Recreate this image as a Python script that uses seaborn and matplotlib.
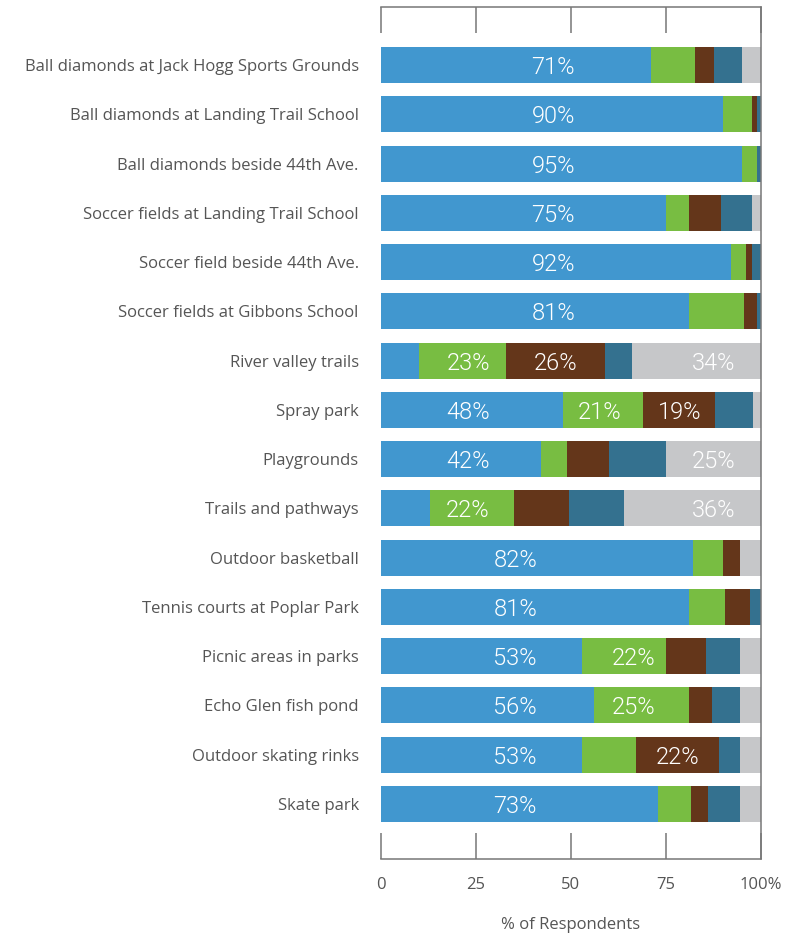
import matplotlib
matplotlib.use("Agg")
import matplotlib.pyplot as plt
import seaborn as sns
import numpy as np
import pandas as pd

# Facilities rated, top to bottom
categories = [
    "Ball diamonds at Jack Hogg Sports Grounds",
    "Ball diamonds at Landing Trail School",
    "Ball diamonds beside 44th Ave.",
    "Soccer fields at Landing Trail School",
    "Soccer field beside 44th Ave.",
    "Soccer fields at Gibbons School",
    "River valley trails",
    "Spray park",
    "Playgrounds",
    "Trails and pathways",
    "Outdoor basketball",
    "Tennis courts at Poplar Park",
    "Picnic areas in parks",
    "Echo Glen fish pond",
    "Outdoor skating rinks",
    "Skate park",
]

# Response shares (% of respondents), one list per stacked segment
seg_blue = [71, 90, 95, 75, 92, 81, 10, 48, 42, 13, 82, 81, 53, 56, 53, 73]
seg_green = [11.5, 7.5, 4, 6, 4, 14.5, 23, 21, 7, 22, 8, 9.5, 22, 25, 14, 8.5]
seg_brown = [5, 1.5, 0, 8.5, 1.5, 3.5, 26, 19, 11, 14.5, 4.5, 6.5, 10.5, 6, 22, 4.5]
seg_teal = [7.5, 1, 1, 8, 2.5, 1, 7, 10, 15, 14.5, 0, 3, 9, 7.5, 5.5, 8.5]
seg_grey = [5, 0, 0, 2.5, 0, 0, 34, 2, 25, 36, 5.5, 0, 5.5, 5.5, 5.5, 5.5]

tick_values = [0, 25, 50, 75, 100]
tick_labels = ["0", "25", "50", "75", "100%"]

series = [
    ("blue", seg_blue, "#4197cf"),
    ("green", seg_green, "#78bd42"),
    ("brown", seg_brown, "#64361a"),
    ("teal", seg_teal, "#34718f"),
    ("grey", seg_grey, "#c6c7c9"),
]

# Where a segment label sits (in axis %), when not simply centred
label_anchor = {}
for r in range(0, 6):
    label_anchor[(r, "blue")] = 45.3
for r in range(10, 16):
    label_anchor[(r, "blue")] = 35.3
for r in (6, 7, 8, 9):
    label_anchor[(r, "blue")] = 22.9
label_anchor[(6, "green")] = 22.9
label_anchor[(9, "green")] = 22.9
label_anchor[(7, "green")] = 57.6
label_anchor[(12, "green")] = 66.4
label_anchor[(13, "green")] = 66.4
for r in range(16):
    label_anchor[(r, "grey")] = 87.6

sns.set_theme(style="white")
plt.rcParams["font.family"] = ["Open Sans", "DejaVu Sans"]

fig = plt.figure(figsize=(7.91, 9.33), dpi=100)
ax = fig.add_axes([381 / 791, 1 - 859 / 933, 380 / 791, (859 - 7) / 933])

df = pd.DataFrame({"category": categories})
cum = np.zeros(len(categories))
cums = []
for name, vals, col in series:
    cum = cum + np.array(vals, dtype=float)
    cums.append(cum.copy())

# Draw cumulative totals from the longest down so each layer shows its own segment
for (name, vals, col), total in reversed(list(zip(series, cums))):
    df["total"] = total
    sns.barplot(data=df, x="total", y="category", color=col, saturation=1,
                width=0.73, orient="h", ax=ax, linewidth=0, zorder=2)

# Value labels on the larger segments
for i in range(len(categories)):
    start = 0.0
    for name, vals, col in series:
        v = vals[i]
        if v >= 18:
            xpos = label_anchor.get((i, name), start + v / 2)
            ax.text(xpos, i, f"{int(round(v))}%", ha="center", va="center_baseline",
                    color="white", fontsize=17, family=["Roboto", "DejaVu Sans"],
                    fontweight=300, zorder=5)
        start += v

n = len(categories)
ax.set_xlim(0, 100)
ax.set_ylim(n - 1 + 1.12, -1.18)

ax.set_xticks(tick_values)
ax.set_xticklabels(tick_labels)
ax.tick_params(axis="x", direction="in", length=19, width=1.1, color="#777777",
               top=True, bottom=True, labeltop=False, labelbottom=True,
               pad=13, labelsize=12, labelcolor="#555555")
ax.tick_params(axis="y", length=0, pad=16, labelsize=12, labelcolor="#555555")

for side in ("top", "bottom", "right"):
    ax.spines[side].set_visible(True)
    ax.spines[side].set_color("#777777")
    ax.spines[side].set_linewidth(1.1)
    ax.spines[side].set_zorder(6)
ax.spines["left"].set_visible(False)

ax.set_ylabel("")
ax.set_xlabel("% of Respondents", fontsize=12, color="#555555", labelpad=17)
ax.grid(False)

fig.savefig("out.png", dpi=100)
